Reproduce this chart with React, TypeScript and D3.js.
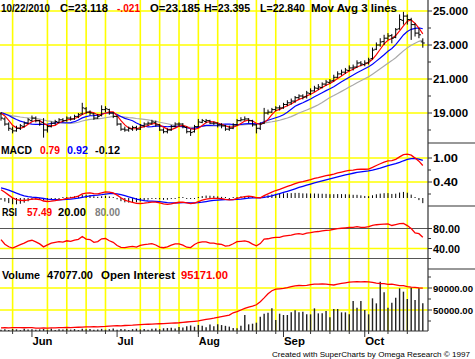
import React from 'react';
import * as d3 from 'd3';

// ---------- DATA ----------
const startDate = '2010-05-19';
const endDate = '2010-10-22';
const holidays = ['2010-05-31', '2010-07-05', '2010-09-06'];

// closes before the visible window (indicator warm-up only)
const priorCloses = [
  17.55, 17.6, 17.5, 17.65, 17.7, 17.62, 17.75, 17.8, 17.78, 17.9,
  17.95, 18.02, 17.98, 18.1, 18.15, 18.25, 18.2, 18.35, 18.4, 18.48,
  18.55, 18.6, 18.58, 18.7, 18.75, 18.8, 18.72, 18.85, 18.9, 18.95,
  18.88, 19.0, 19.05, 18.98, 19.1, 19.05, 19.12, 19.02, 19.15, 19.1,
];

const opens = [
  18.95, 18.65, 18.35, 18.05, 17.95, 18.1, 18.2, 18.4, 18.55, 18.7,
  18.55, 18.45, 18.0, 18.2, 18.4, 18.45, 18.6, 18.55, 18.7, 18.65,
  18.8, 18.95, 19.25, 19.05, 18.95, 18.7, 18.85, 19.2, 19.2, 19.0,
  18.8, 18.35, 18.05, 18.0, 18.05, 18.15, 18.05, 18.25, 18.35, 18.4,
  18.45, 18.3, 18.0, 17.9, 18.0, 18.2, 18.35, 18.35, 18.15, 17.9,
  17.9, 18.2, 18.45, 18.5, 18.55, 18.4, 18.4, 18.3, 18.25, 18.05,
  18.1, 18.3, 18.55, 18.6, 18.65, 18.55, 18.3, 18.1, 18.4, 19.0,
  19.05, 19.2, 19.3, 19.3, 19.5, 19.6, 19.7, 19.9, 20.0, 19.95,
  20.15, 20.3, 20.45, 20.5, 20.7, 20.8, 20.9, 21.1, 21.3, 21.4,
  21.5, 21.65, 21.7, 21.95, 21.85, 21.95, 22.2, 22.75, 23.0, 23.2,
  23.4, 23.55, 23.45, 23.95, 24.45, 24.7, 24.5, 24.2, 23.7, 23.185,
];
const highs = [
  19.05, 18.75, 18.45, 18.2, 18.25, 18.35, 18.5, 18.7, 18.85, 18.8,
  18.6, 18.7, 18.3, 18.5, 18.6, 18.7, 18.7, 18.8, 18.8, 18.9,
  19.0, 19.6, 19.35, 19.15, 19.0, 18.95, 19.45, 19.4, 19.25, 19.05,
  18.85, 18.4, 18.2, 18.2, 18.25, 18.25, 18.35, 18.45, 18.5, 18.6,
  18.55, 18.35, 18.1, 18.1, 18.3, 18.45, 18.45, 18.4, 18.2, 18.05,
  18.3, 18.65, 18.65, 18.65, 18.6, 18.5, 18.45, 18.4, 18.3, 18.25,
  18.4, 18.65, 18.75, 18.8, 18.7, 18.6, 18.35, 18.45, 19.3, 19.2,
  19.3, 19.4, 19.45, 19.6, 19.75, 19.85, 20.0, 20.1, 20.1, 20.3,
  20.45, 20.6, 20.7, 20.8, 20.95, 21.0, 21.25, 21.45, 21.55, 21.65,
  21.8, 21.85, 22.1, 22.05, 22.1, 22.25, 22.85, 23.15, 23.4, 23.6,
  23.7, 23.65, 24.0, 24.8, 24.95, 24.8, 24.6, 24.3, 24.0, 23.395,
];
const lows = [
  18.55, 18.25, 17.95, 17.8, 17.9, 18.0, 18.15, 18.35, 18.5, 18.45,
  18.25, 17.55, 17.85, 18.15, 18.3, 18.4, 18.45, 18.5, 18.55, 18.6,
  18.7, 18.9, 18.95, 18.85, 18.6, 18.65, 18.8, 19.05, 18.9, 18.7,
  18.25, 17.95, 17.9, 17.9, 17.95, 17.95, 18.0, 18.15, 18.25, 18.3,
  18.2, 17.95, 17.8, 17.8, 17.95, 18.15, 18.2, 18.1, 17.8, 17.65,
  17.85, 18.15, 18.4, 18.4, 18.35, 18.3, 18.15, 18.1, 17.95, 17.95,
  18.05, 18.25, 18.5, 18.55, 18.4, 18.2, 17.8, 18.0, 18.35, 18.9,
  19.0, 19.1, 19.15, 19.25, 19.4, 19.5, 19.6, 19.8, 19.8, 19.85,
  20.05, 20.25, 20.35, 20.45, 20.6, 20.7, 20.85, 21.05, 21.2, 21.3,
  21.45, 21.5, 21.65, 21.75, 21.75, 21.85, 22.15, 22.7, 22.9, 23.0,
  23.3, 23.1, 23.4, 23.9, 24.2, 24.2, 23.3, 23.5, 23.4, 22.84,
];
const closes = [
  18.7, 18.35, 18.1, 17.95, 18.1, 18.25, 18.4, 18.6, 18.7, 18.55,
  18.35, 18.0, 18.2, 18.4, 18.5, 18.6, 18.55, 18.7, 18.65, 18.8,
  18.9, 19.3, 19.05, 19.0, 18.7, 18.8, 19.2, 19.25, 19.0, 18.8,
  18.35, 18.05, 18.0, 18.1, 18.15, 18.05, 18.25, 18.35, 18.4, 18.47,
  18.3, 18.0, 17.9, 18.0, 18.2, 18.35, 18.35, 18.2, 17.9, 17.85,
  18.2, 18.47, 18.55, 18.55, 18.4, 18.4, 18.3, 18.25, 18.05, 18.1,
  18.3, 18.55, 18.6, 18.65, 18.55, 18.3, 18.1, 18.35, 19.0, 19.05,
  19.2, 19.3, 19.3, 19.5, 19.6, 19.7, 19.9, 20.0, 19.94, 20.18,
  20.3, 20.47, 20.53, 20.7, 20.82, 20.88, 21.1, 21.3, 21.4, 21.53,
  21.65, 21.7, 21.94, 21.88, 21.94, 22.12, 22.7, 23.0, 23.18, 23.4,
  23.53, 23.4, 23.9, 24.5, 24.7, 24.5, 24.2, 23.7, 23.6, 23.118,
];

const volumes = [
  14200, 15100, 13800, 15600, 14900, 13500, 16000, 14400, 15200, 13900,
  14700, 15500, 14100, 16200, 13700, 15000, 14600, 15800, 14300, 15300,
  13600, 16100, 14800, 15400, 13900, 14500, 15700, 14200, 15100, 16300,
  14000, 15600, 14900, 13800, 15200, 16000, 14700, 15500, 14300, 15900,
  16400, 15100, 16800, 17200, 17800, 16500, 19200, 18100, 20500, 21900,
  19600, 22800, 21400, 18700, 23500, 20300, 24100, 22600, 21200, 19800,
  17500, 16650, 21500, 40900, 23900, 25100, 26950, 37850, 43300, 45100,
  53000, 31800, 43300, 40900, 40900, 45700, 49400, 45700, 46950, 42100,
  42100, 53000, 43900, 43900, 48150, 36650, 51800, 51800, 45700, 45700,
  42100, 66350, 54200, 66350, 50000, 42100, 71200, 62100, 101500, 82100,
  54200, 63300, 72400, 89400, 83300, 70000, 90600, 68150, 89400, 62100,
];
const openInterest = [
  17500, 17800, 17600, 17900, 18000, 17800, 17700, 18000, 18100, 17200,
  17000, 17300, 17100, 17400, 17600, 17900, 18100, 18300, 18000, 18400,
  18600, 18800, 19200, 19500, 19700, 19400, 19800, 20100, 20800, 21200,
  21500, 21300, 21800, 22100, 22400, 23000, 23400, 23800, 24100, 24300,
  24600, 25000, 25300, 25700, 26000, 26400, 26800, 27500, 28200, 28800,
  29400, 30100, 31500, 32800, 34000, 35200, 36600, 37900, 39300, 40600,
  45000, 47000, 50000, 53000, 55200, 57000, 59500, 65000, 72000, 79500,
  85000, 87800, 88500, 89200, 90500, 92300, 94000, 94500, 94200, 94800,
  96000, 97200, 97000, 97300, 97000, 96200, 95500, 97000, 98400, 99500,
  100500, 101300, 101400, 101000, 101500, 101200, 100300, 99000, 98200, 97800,
  96700, 96900, 95800, 94500, 94200, 92500, 91500, 91000, 90200, 89600,
];

const maPeriods = [4, 9, 18];
const rsiPeriod = 21;
const priceTicks = [25, 23, 21, 19];
const priceMinorTicks = [24, 22, 20, 18];
const macdTicks = [1.0, 0.4];
const macdMinorTicks = [0.7, 0.1];
const rsiTicks = [80, 40];
const rsiMinorTicks = [60, 20];
const volTicks = [90000, 50000];
const volMinorTicks = [110000, 70000, 30000];
const rsiLevels = [80, 20];

const titleParts = ['10/22/2010', 'C=23.118', '-.021', 'O=23.185', 'H=23.395', 'L=22.840', 'Mov Avg 3 lines'];
const macdParts = ['MACD', '0.79', '0.92', '-0.12'];
const rsiParts = ['RSI', '57.49', '20.00', '80.00'];
const volParts = ['Volume', '47077.00', 'Open Interest', '95171.00'];
const footer = 'Created with SuperCharts by Omega Research \u00A9 1997';

// ---------- LAYOUT / STYLE ----------
const W = 475, H = 359;
const plotRight = 428;
const axisBottom = 331;
const panels = { price: [0, 143], macd: [143, 206], rsi: [206, 269], vol: [269, 331] };
const YELLOW = '#ffff00';
const RED = '#ff0000';
const BLUE = '#0000ff';
const GRAYMA = '#a9a9a9';
const AXIS = '#333333';
const FONT = '"Liberation Sans", Arial, Helvetica, sans-serif';

const titleLayout = [[1, 49, '#000'], [60, 48, '#000'], [117, 23, RED], [150, 50, '#000'], [204, 46, '#000'], [260, 45, '#000'], [311, 86, '#000']];
const macdLayout = [[1, 31, '#000'], [40, 20, RED], [67, 21, BLUE], [95, 25, '#000']];
const rsiLayout = [[2, 15, '#000'], [27, 25, RED], [58, 28, '#000'], [95, 25, '#808080']];
const volLayout = [[2, 38, '#000'], [47, 46, '#000'], [101, 74, '#000'], [181, 47, RED]];

function ema(arr: number[], n: number) {
  const k = 2 / (n + 1);
  let e = arr[0];
  return arr.map((v, i) => (e = i === 0 ? v : v * k + e * (1 - k)));
}
function rsiCalc(arr: number[], n: number) {
  const out: (number | null)[] = arr.map(() => null);
  let g = 0, l = 0;
  for (let i = 1; i <= n; i++) { const d = arr[i] - arr[i - 1]; if (d > 0) g += d; else l -= d; }
  g /= n; l /= n;
  out[n] = l === 0 ? 100 : 100 - 100 / (1 + g / l);
  for (let i = n + 1; i < arr.length; i++) {
    const d = arr[i] - arr[i - 1];
    g = (g * (n - 1) + Math.max(d, 0)) / n;
    l = (l * (n - 1) + Math.max(-d, 0)) / n;
    out[i] = l === 0 ? 100 : 100 - 100 / (1 + g / l);
  }
  return out;
}

export default function App() {
  const parseDay = d3.utcParse('%Y-%m-%d');
  const fmtDay = d3.utcFormat('%Y-%m-%d');
  const days = d3.utcDay
    .range(parseDay(startDate)!, d3.utcDay.offset(parseDay(endDate)!, 1))
    .filter((d) => { const w = d.getUTCDay(); return w !== 0 && w !== 6 && !holidays.includes(fmtDay(d)); });
  const n = closes.length;

  const x = d3.scaleLinear().domain([0, n - 1]).range([1, 422.8]);
  const yP = d3.scaleLinear().domain([19, 25]).range([113, 11]);
  const yM = d3.scaleLinear().domain([0.4, 1.0]).range([182, 158]);
  const yR = d3.scaleLinear().domain([40, 80]).range([248.5, 228.5]);
  const yV = d3.scaleLinear().domain([50000, 90000]).range([310, 288]);

  const all = priorCloses.concat(closes);
  const P = priorCloses.length;
  const mas = maPeriods.map((p) => closes.map((_, i) => d3.mean(all.slice(P + i - p + 1, P + i + 1)) as number));
  const e12 = ema(all, 12), e26 = ema(all, 26);
  const macdAll = e12.map((v, i) => v - e26[i]);
  const sigAll = ema(macdAll, 9);
  const macd = macdAll.slice(P), signal = sigAll.slice(P);
  const hist = macd.map((v, i) => v - signal[i]);
  const rsi = rsiCalc(all, rsiPeriod).slice(P) as number[];

  const line = (ys: number[], sc: d3.ScaleLinear<number, number>) =>
    d3.line<number>().x((_, i) => x(i)).y((v) => sc(v))(ys) || '';

  const mondays = days.map((d, i) => ({ d, i })).filter(({ d }) => d.getUTCDay() === 1);
  const monthStarts = days.map((d, i) => ({ d, i })).filter(({ d, i }) => i > 0 && d.getUTCMonth() !== days[i - 1].getUTCMonth());
  const monthFmt = d3.utcFormat('%b');
  const monthWidths = [20, 16, 21, 21, 19];

  const textRow = (parts: string[], layout: any[], y: number, size: number) =>
    parts.map((t, k) => (
      <text key={t + k} x={layout[k][0]} y={y} fill={layout[k][2]} fontSize={size} fontWeight="bold"
        textLength={layout[k][1]} lengthAdjust="spacingAndGlyphs">{t}</text>
    ));

  const axisLabels = (ticks: number[], sc: d3.ScaleLinear<number, number>, fmt: (v: number) => string, width: number, size = 11) =>
    ticks.map((t) => (
      <g key={'al' + t + width}>
        <line x1={plotRight} x2={plotRight + 4} y1={sc(t)} y2={sc(t)} stroke={AXIS} />
        <text x={433} y={sc(t)} dominantBaseline="central" fontSize={size} fontWeight="bold" textLength={width} lengthAdjust="spacingAndGlyphs">{fmt(t)}</text>
      </g>
    ));
  const minor = (ticks: number[], sc: d3.ScaleLinear<number, number>) =>
    ticks.map((t) => <line key={'mi' + t} x1={plotRight} x2={plotRight + 3} y1={sc(t)} y2={sc(t)} stroke={AXIS} />);

  return (
    <svg width={W} height={H} style={{ position: 'absolute', left: 0, top: 0, background: '#fff' }} fontFamily={FONT}>
      <defs>
        {Object.entries(panels).map(([k, [a, b]]) => (
          <clipPath id={'clip-' + k} key={k}><rect x={0} y={a} width={plotRight} height={b - a} /></clipPath>
        ))}
      </defs>
      <rect width={W} height={H} fill="#fff" />

      {/* vertical weekly gridlines */}
      {mondays.map(({ i }) => (
        <line key={'vg' + i} x1={x(i)} x2={x(i)} y1={0} y2={axisBottom} stroke={YELLOW} strokeWidth={1.6} />
      ))}
      {/* horizontal gridlines */}
      {priceTicks.map((t) => <line key={'pg' + t} x1={0} x2={plotRight} y1={yP(t)} y2={yP(t)} stroke={YELLOW} strokeWidth={1.6} />)}
      {macdTicks.map((t) => <line key={'mg' + t} x1={0} x2={plotRight} y1={yM(t)} y2={yM(t)} stroke={YELLOW} strokeWidth={1.6} />)}
      <line x1={0} x2={plotRight} y1={yR(40)} y2={yR(40)} stroke={YELLOW} strokeWidth={1.6} />
      {volTicks.map((t) => <line key={'vt' + t} x1={0} x2={plotRight} y1={yV(t)} y2={yV(t)} stroke={YELLOW} strokeWidth={1.6} />)}
      {rsiLevels.map((t) => <line key={'rl' + t} x1={0} x2={plotRight} y1={yR(t)} y2={yR(t)} stroke="#555" strokeWidth={1.2} />)}

      {/* price panel */}
      <g clipPath="url(#clip-price)">
        {[2, 1, 0].map((k) => (
          <path key={'ma' + k} d={line(mas[k], yP)} fill="none" stroke={[RED, BLUE, GRAYMA][k]} strokeWidth={1.2} />
        ))}
        {closes.map((c, i) => (
          <g key={'b' + i} stroke="#000" strokeWidth={1}>
            <line x1={x(i)} x2={x(i)} y1={yP(highs[i])} y2={yP(lows[i])} />
            <line x1={x(i) - 2} x2={x(i)} y1={yP(opens[i])} y2={yP(opens[i])} />
            <line x1={x(i)} x2={x(i) + 2} y1={yP(c)} y2={yP(c)} />
          </g>
        ))}
      </g>

      {/* MACD panel */}
      <g clipPath="url(#clip-macd)">
        {hist.map((h, i) => {
          const y0 = yM(0), y1 = yM(h);
          const yy = Math.abs(y1 - y0) < 1 ? y0 + (h >= 0 ? -1 : 1) : y1;
          return <line key={'h' + i} x1={x(i)} x2={x(i)} y1={y0} y2={yy} stroke="#000" strokeWidth={1} />;
        })}
        <path d={line(signal, yM)} fill="none" stroke={BLUE} strokeWidth={1.3} />
        <path d={line(macd, yM)} fill="none" stroke={RED} strokeWidth={1.3} />
      </g>

      {/* RSI panel */}
      <g clipPath="url(#clip-rsi)">
        <path d={line(rsi, yR)} fill="none" stroke={RED} strokeWidth={1.3} />
      </g>

      {/* Volume panel */}
      <g clipPath="url(#clip-vol)">
        {volumes.map((v, i) => (
          <line key={'v' + i} x1={x(i)} x2={x(i)} y1={axisBottom} y2={yV(v)} stroke="#222" strokeWidth={1.4} />
        ))}
        <path d={line(openInterest, yV)} fill="none" stroke={RED} strokeWidth={1.3} />
      </g>

      {/* axes */}
      <line x1={plotRight} x2={plotRight} y1={0} y2={axisBottom} stroke={AXIS} strokeWidth={1.2} />
      <line x1={0} x2={plotRight} y1={axisBottom} y2={axisBottom} stroke={AXIS} strokeWidth={1.2} />
      {[panels.price[1], panels.macd[1], panels.rsi[1]].map((y) => (
        <line key={'sep' + y} x1={plotRight} x2={W} y1={y} y2={y} stroke={AXIS} strokeWidth={1.2} />
      ))}
      {axisLabels(priceTicks, yP, d3.format('.3f'), 35)}
      {minor(priceMinorTicks, yP)}
      {axisLabels(macdTicks, yM, d3.format('.2f'), 25)}
      {minor(macdMinorTicks, yM)}
      {axisLabels(rsiTicks, yR, d3.format('.2f'), 27)}
      {minor(rsiMinorTicks, yR)}
      {axisLabels(volTicks, yV, d3.format('.2f'), 40, 9.8)}
      {minor(volMinorTicks, yV)}

      {/* bottom ticks */}
      {mondays.map(({ i }) => (
        <line key={'wt' + i} x1={x(i)} x2={x(i)} y1={axisBottom} y2={axisBottom + 3} stroke={AXIS} />
      ))}
      {monthStarts.map(({ d, i }, k) => (
        <g key={'mt' + i}>
          <line x1={x(i)} x2={x(i)} y1={axisBottom} y2={axisBottom + 6} stroke={AXIS} />
          <text x={x(i) + 0.5} y={345} fontSize={11} fontWeight="bold" textLength={monthWidths[k]} lengthAdjust="spacingAndGlyphs">{monthFmt(d)}</text>
        </g>
      ))}

      {/* labels */}
      {textRow(titleParts, titleLayout, 11.5, 11)}
      {textRow(macdParts, macdLayout, 153.5, 10.5)}
      {textRow(rsiParts, rsiLayout, 215.5, 10.5)}
      {textRow(volParts, volLayout, 279, 10.5)}
      <text x={272} y={357} fontSize={8.1} textLength={198} lengthAdjust="spacingAndGlyphs" fill="#000">{footer}</text>
    </svg>
  );
}
